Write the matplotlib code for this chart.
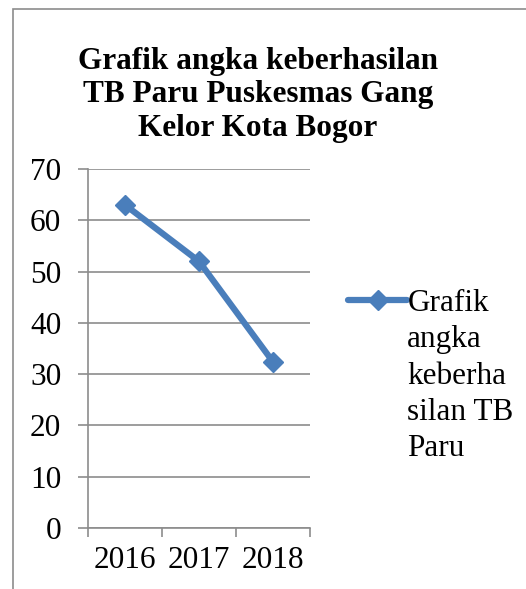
import matplotlib.pyplot as plt
from matplotlib.patches import Rectangle

tahun = ["2016", "2017", "2018"]
nilai = [63, 52, 32.4]
judul = "Grafik angka keberhasilan\nTB Paru Puskesmas Gang\nKelor Kota Bogor"
label_seri = "Grafik\nangka\nkeberha\nsilan TB\nParu"

W, H = 526, 589
fig = plt.figure(figsize=(W / 100, H / 100), dpi=100)
plt.rcParams["font.family"] = ["Liberation Serif", "DejaVu Serif"]
fs = 22.5

# bingkai luar (hanya kiri dan atas terlihat)
fig.patches.append(Rectangle((13 / W, -0.1), 1.2, 1 - 9 / H + 0.1,
                             transform=fig.transFigure, fill=False,
                             edgecolor="#8c8c8c", linewidth=1.2))

ax = fig.add_axes([88 / W, 1 - 528 / H, (310 - 88) / W, (528 - 169) / H])
x = [0.5, 1.5, 2.5]
ax.plot(x, nilai, color="#4a7ebb", linewidth=4.5, marker="D", markersize=10,
        solid_joinstyle="round", solid_capstyle="round", label=label_seri)

ax.set_xlim(0, 3)
ax.set_ylim(0, 70)
ax.set_yticks(range(0, 71, 10))
ax.set_xticks([0, 1, 2, 3])
ax.set_xticklabels([])
ax.set_xticks(x, minor=True)
ax.set_xticklabels(tahun, minor=True)
ax.tick_params(axis="x", which="minor", length=0, pad=13, labelsize=fs)
ax.tick_params(axis="x", which="major", length=6.5, width=1.2, color="#8c8c8c")
ax.tick_params(axis="y", length=7.2, width=1.2, color="#8c8c8c", pad=12,
               labelsize=fs)
ax.grid(axis="y", color="#8c8c8c", linewidth=1.2)
ax.set_axisbelow(True)
for s in ["top", "right"]:
    ax.spines[s].set_visible(False)
for s in ["left", "bottom"]:
    ax.spines[s].set_color("#8c8c8c")
    ax.spines[s].set_linewidth(1.2)

fig.text(258 / W, 1 - 47 / H, judul, ha="center", va="top", fontsize=fs,
         fontweight="bold", linespacing=1.2)

leg = ax.legend(loc="upper left", bbox_to_anchor=(348 / W, 1 - 289 / H),
                bbox_transform=fig.transFigure, frameon=False, fontsize=fs,
                handlelength=1.9, handletextpad=0.0, borderpad=0,
                borderaxespad=0, labelspacing=0)
for t in leg.get_texts():
    t.set_linespacing(1.33)
# handle sejajar dengan baris pertama label
for kolom in leg._legend_handle_box.get_children():
    for item in kolom.get_children():
        item.align = "top"

fig.savefig("out.png", dpi=100)
